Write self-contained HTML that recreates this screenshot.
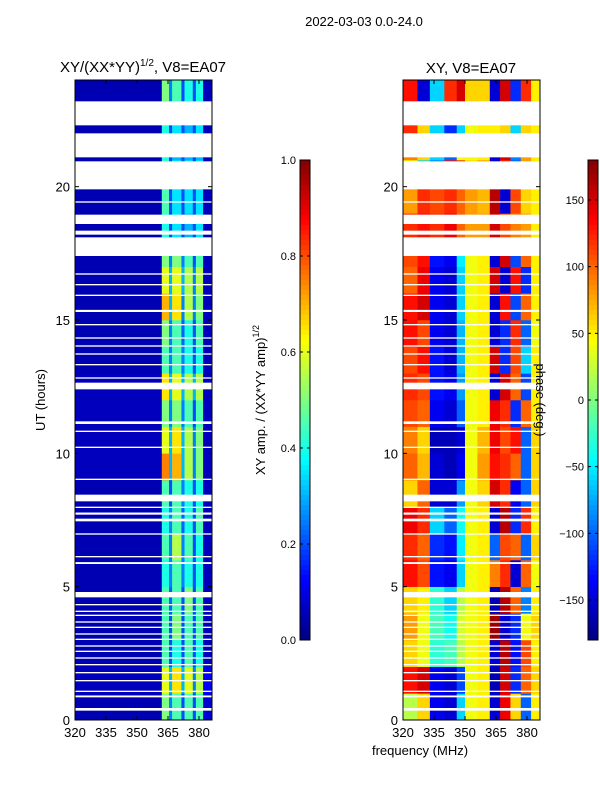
<!DOCTYPE html>
<html><head><meta charset="utf-8"><style>
body{margin:0;background:#fff;}
svg text{font-family:"Liberation Sans",sans-serif;fill:#000;}
</style></head><body>
<svg id="fig" width="600" height="800" xmlns="http://www.w3.org/2000/svg">
<rect width="600" height="800" fill="#fff"/>
<text x="364" y="26" font-size="13" text-anchor="middle">2022-03-03 0.0-24.0</text>
<text x="143" y="72" font-size="15" text-anchor="middle">XY/(XX*YY)<tspan font-size="10" dy="-6">1/2</tspan><tspan dy="6">, V8=EA07</tspan></text>
<text x="471" y="73" font-size="15" text-anchor="middle">XY, V8=EA07</text>
<g id="left"></g>
<g id="right"></g>
<g id="axes"></g>
<text transform="translate(45,400) rotate(-90)" font-size="13" text-anchor="middle">UT (hours)</text>
<text x="420" y="755" font-size="13" text-anchor="middle">frequency (MHz)</text>
<text transform="translate(265,400) rotate(-90)" font-size="13" text-anchor="middle">XY amp. / (XX*YY amp)<tspan font-size="9" dy="-6">1/2</tspan></text>
<text transform="translate(536,400) rotate(90)" font-size="13" text-anchor="middle">phase (deg.)</text>
</svg>
<script>
// ---- data ----
const ampFreqEdges=[320,362,365.5,367,371.5,373,377,378.5,382,386];
const ampGrid=[
[0.05,0.5,0.25,0.45,0.2,0.45,0.2,0.45,0.08],
[0.06,0.6,0.3,0.65,0.3,0.6,0.25,0.55,0.12],
[0.05,0.45,0.2,0.4,0.2,0.45,0.2,0.4,0.06],
[0.05,0.45,0.2,0.5,0.2,0.45,0.2,0.45,0.06],
[0.05,0.45,0.22,0.45,0.2,0.5,0.2,0.45,0.06],
[0.05,0.4,0.25,0.45,0.25,0.4,0.2,0.4,0.06],
[0.05,0.45,0.25,0.55,0.25,0.45,0.2,0.4,0.06],
[0.05,0.4,0.25,0.45,0.22,0.4,0.2,0.45,0.06],
[0.05,0.45,0.2,0.45,0.25,0.4,0.2,0.4,0.06],
[0.06,0.75,0.3,0.7,0.3,0.55,0.25,0.5,0.06],
[0.06,0.6,0.3,0.65,0.3,0.55,0.25,0.5,0.06],
[0.06,0.5,0.25,0.5,0.25,0.45,0.2,0.45,0.06],
[0.06,0.65,0.3,0.6,0.3,0.55,0.3,0.55,0.06],
[0.05,0.45,0.25,0.45,0.25,0.4,0.2,0.4,0.06],
[0.05,0.5,0.25,0.45,0.22,0.4,0.2,0.45,0.06],
[0.05,0.7,0.3,0.65,0.25,0.55,0.25,0.5,0.06],
[0.05,0.6,0.3,0.6,0.3,0.55,0.25,0.55,0.06],
[0.05,0.5,0.25,0.5,0.25,0.45,0.2,0.45,0.06],
[0.05,0.4,0.2,0.35,0.2,0.3,0.2,0.35,0.06],
[0.05,0.45,0.2,0.35,0.2,0.35,0.2,0.35,0.06],
[0.05,0.45,0.2,0.35,0.2,0.35,0.2,0.35,0.06],
[0.05,0.4,0.2,0.3,0.2,0.3,0.2,0.3,0.06],
[0.05,0.4,0.2,0.35,0.2,0.3,0.2,0.35,0.06],
[0.05,0.5,0.25,0.45,0.2,0.4,0.2,0.4,0.06]];
const phFreqEdges=[320,327,333,340,346,350,356,362,367,372,377,382,386];
const phGrid=[
[20,60,-140,-150,-60,40,50,-150,140,60,-100,50],
[130,150,-140,-150,-110,40,50,-160,150,-120,100,60],
[60,40,-30,-20,20,40,50,-150,160,-130,110,50],
[80,40,-20,-40,30,40,50,170,-150,-120,40,60],
[60,50,-30,-60,20,40,50,-160,160,100,-90,50],
[130,110,-130,-140,-60,40,50,90,120,-150,100,40],
[120,100,-120,-130,-50,40,50,-100,110,100,-100,60],
[140,120,-60,-100,-40,40,50,-150,160,-120,120,50],
[60,100,-150,-150,-80,40,60,150,120,-140,-100,60],
[100,70,-150,-160,-140,40,80,130,120,100,-100,60],
[90,60,-160,-160,-150,40,70,140,110,130,-100,60],
[110,100,-140,-150,-100,40,50,140,120,-120,100,50],
[120,110,-130,-140,-80,40,50,-150,150,100,-110,50],
[110,130,-130,-150,-70,40,50,150,-120,110,-60,50],
[130,110,-140,-150,-70,40,50,-150,-120,120,-100,40],
[130,150,-140,-150,-60,40,50,-150,130,-110,100,50],
[100,140,-140,-150,-60,40,50,150,-150,130,-120,50],
[110,130,-130,-140,-50,40,50,-150,150,-110,100,50],
[120,130,120,140,100,80,80,150,110,90,80,50],
[80,120,110,120,100,80,70,160,-150,110,60,50],
[40,-60,-90,130,120,60,80,-150,120,-100,80,50],
[90,60,-60,-100,40,40,50,-150,150,-90,80,50],
[120,60,-60,-120,-60,40,50,50,60,-60,60,50],
[130,-150,-60,120,150,60,60,-150,150,-120,120,50]];
const flagStart=[0.35,0.85,1.05,1.45,1.75,2.05,2.3,2.55,2.75,3.0,3.2,3.45,3.65,3.9,4.05,4.3,4.6,5.85,6.1,6.95,7.45,7.7,7.95,8.2,9.0,10.2,10.8,11.1,12.4,12.8,13.3,13.7,14.0,14.3,14.8,15.3,15.9,16.3,16.7,17.4,18.2,18.6,19.4,19.9,21.1,22.3];
const flagEnd  =[0.45,0.92,1.1,1.5,1.8,2.1,2.35,2.6,2.8,3.05,3.25,3.5,3.7,3.95,4.1,4.35,4.8,5.92,6.15,7.0,7.55,7.78,8.0,8.45,9.05,10.25,10.85,11.2,12.65,12.85,13.35,13.75,14.05,14.35,14.85,15.38,15.95,16.35,16.75,18.1,18.35,18.95,19.45,20.95,22.0,23.2];
const xTicks=[320,335,350,365,380];
const yTicks=[0,5,10,15,20];
const ampTicks=[0.0,0.2,0.4,0.6,0.8,1.0];
const phTicks=[-150,-100,-50,0,50,100,150];

// ---- scales ----
const NS="http://www.w3.org/2000/svg";
const fmin=320,fmax=386.3;
function xL(f){return 75+(f-fmin)/(fmax-fmin)*137;}
function xR(f){return 403+(f-fmin)/(fmax-fmin)*137;}
function yT(h){return 720-h/24*640;}
function jet(v){v=Math.max(0,Math.min(1,v));
 const c=x=>Math.round(255*Math.max(0,Math.min(1,x)));
 return `rgb(${c(1.5-Math.abs(4*v-3))},${c(1.5-Math.abs(4*v-2))},${c(1.5-Math.abs(4*v-1))})`;}
function el(tag,attrs,parent){const e=document.createElementNS(NS,tag);for(const k in attrs)e.setAttribute(k,attrs[k]);parent.appendChild(e);return e;}
const L=document.getElementById('left'),R=document.getElementById('right'),A=document.getElementById('axes');
ampGrid.forEach((row,h)=>row.forEach((v,j)=>{
 const r=el('rect',{x:xL(ampFreqEdges[j]),y:yT(h+1),width:xL(ampFreqEdges[j+1])-xL(ampFreqEdges[j])+0.3,height:yT(h)-yT(h+1)+0.3,fill:jet(v)},L);
 
 
}));
phGrid.forEach((row,h)=>row.forEach((v,j)=>{
 const r=el('rect',{x:xR(phFreqEdges[j]),y:yT(h+1),width:xR(phFreqEdges[j+1])-xR(phFreqEdges[j])+0.3,height:yT(h)-yT(h+1)+0.3,fill:jet((v+180)/360)},R);
 
 
}));
flagStart.forEach((s,i)=>{
 [[75,L],[403,R]].forEach(([x0,g])=>{
  const r=el('rect',{x:x0,y:yT(flagEnd[i]),width:137,height:yT(s)-yT(flagEnd[i]),fill:'#fff'},g);
  
  
 });
});
[[75,xL],[403,xR]].forEach(([x0,sx])=>{
 const f=el('rect',{x:x0,y:80,width:137,height:640,fill:'none',stroke:'#000','stroke-width':1},A);
 
 
 xTicks.forEach(t=>{
  const X=sx(t);
  el('line',{x1:X,x2:X,y1:720,y2:716,stroke:'#000'},A);
  el('line',{x1:X,x2:X,y1:80,y2:84,stroke:'#000'},A);
  const tx=el('text',{x:X,y:737,'font-size':13,'text-anchor':'middle'},A);tx.textContent=t;
  
  
 });
 yTicks.forEach(t=>{
  const Y=yT(t);
  el('line',{x1:x0,x2:x0+4,y1:Y,y2:Y,stroke:'#000'},A);
  el('line',{x1:x0+137,x2:x0+133,y1:Y,y2:Y,stroke:'#000'},A);
  const tx=el('text',{x:x0-5,y:Y+5,'font-size':13,'text-anchor':'end'},A);tx.textContent=t;
  
  
 });
});
function colorbar(x,name,ticks,vmin,vmax){
 const g=el('g',{},A);
 
 
 for(let i=0;i<96;i++){el('rect',{x:x,y:160+i*5,width:10,height:5.3,fill:jet(1-(i+0.5)/96)},g);}
 el('rect',{x:x,y:160,width:10,height:480,fill:'none',stroke:'#000'},g);
 ticks.forEach(t=>{
  const Y=640-(t-vmin)/(vmax-vmin)*480;
  el('line',{x1:x,x2:x+3,y1:Y,y2:Y,stroke:'#000'},g);
  el('line',{x1:x+10,x2:x+7,y1:Y,y2:Y,stroke:'#000'},g);
  const tx=el('text',{x:x-4,y:Y+4,'font-size':11,'text-anchor':'end'},g);
  tx.textContent=(vmax===1)?t.toFixed(1):(t<0?'\u2212'+(-t):t);
  
  
 });
}
colorbar(300,'amp-colorbar',ampTicks,0,1);
colorbar(588,'phase-colorbar',phTicks,-180,180);
</script>
</body></html>
